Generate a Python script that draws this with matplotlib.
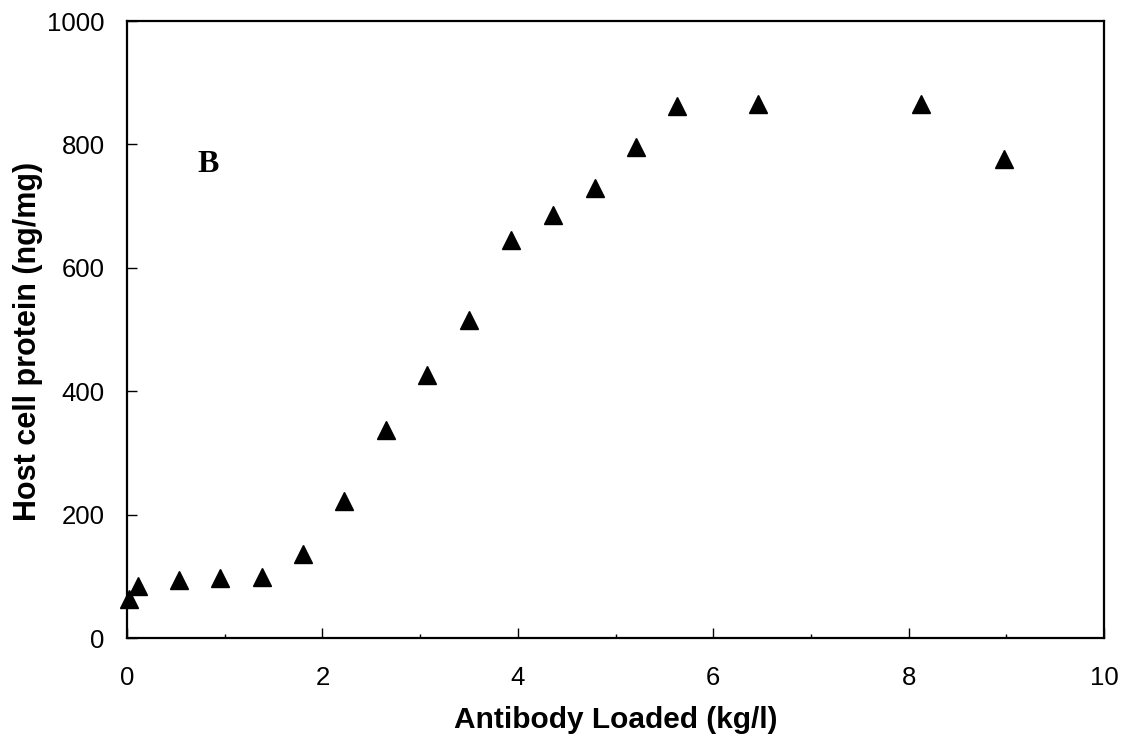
import matplotlib
matplotlib.use("Agg")
import matplotlib.pyplot as plt
from matplotlib.ticker import MultipleLocator

# Antibody loaded (kg/l) vs host cell protein (ng/mg), panel B
antibody_loaded = [0.02, 0.11, 0.53, 0.95, 1.38, 1.80, 2.22, 2.65, 3.07, 3.50,
                   3.93, 4.36, 4.79, 5.21, 5.63, 6.46, 8.13, 8.98]
host_cell_protein = [63, 84, 94, 97, 99, 136, 222, 337, 426, 515,
                     645, 686, 729, 796, 863, 866, 865, 776]

x_ticks = [0, 2, 4, 6, 8, 10]
y_ticks = [0, 200, 400, 600, 800, 1000]

plt.rcParams['font.family'] = ['Liberation Sans', 'DejaVu Sans']

fig = plt.figure(figsize=(11.32, 7.38), dpi=100)
ax = fig.add_axes([0.1122, 0.1355, 0.8631, 0.836])

ax.plot(antibody_loaded, host_cell_protein, linestyle='none', marker='^',
        markersize=13.5, color='black', clip_on=False)

ax.set_xlim(0, 10)
ax.set_ylim(0, 1000)
ax.set_xticks(x_ticks)
ax.set_yticks(y_ticks)
ax.xaxis.set_minor_locator(MultipleLocator(1))

ax.tick_params(axis='both', which='major', direction='in', length=7, width=1,
               labelsize=18.5, top=False, right=False)
ax.tick_params(axis='x', which='major', pad=20)
ax.tick_params(axis='y', which='major', pad=16)
ax.tick_params(axis='x', which='minor', direction='in', length=3, width=1)

for s in ax.spines.values():
    s.set_linewidth(1.6)

ax.set_xlabel('Antibody Loaded (kg/l)', fontsize=21.5, fontweight='bold', labelpad=12)
ax.set_ylabel('Host cell protein (ng/mg)', fontsize=22, fontweight='bold')
ax.yaxis.set_label_coords(-0.086, 0.48)

ax.text(0.83, 768, 'B', fontsize=23, fontweight='bold',
        family='Liberation Serif', ha='center', va='center')

fig.savefig('out.png', dpi=100)
